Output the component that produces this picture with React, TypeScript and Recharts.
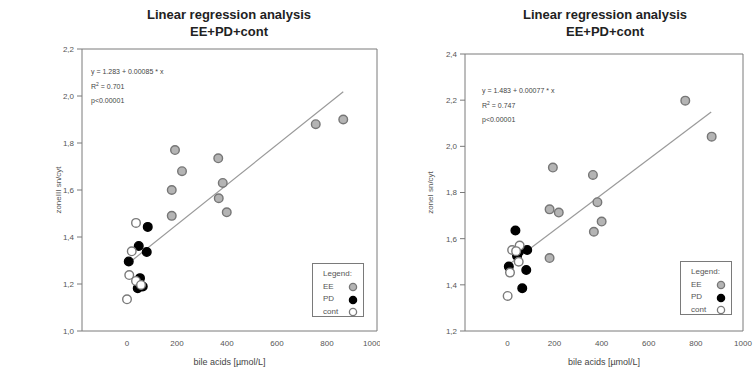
import React from 'react';
import { ScatterChart, Scatter, XAxis, YAxis, ReferenceLine } from 'recharts';

// bile acids (µmol/L) vs staining ratio, two liver zones
const xTicks = [0, 200, 400, 600, 800, 1000];
const zone3Ticks = [1.0, 1.2, 1.4, 1.6, 1.8, 2.0, 2.2];
const zone1Ticks = [1.2, 1.4, 1.6, 1.8, 2.0, 2.2, 2.4];

const zone3EE = [
  { x: 192, y: 1.77 }, { x: 220, y: 1.68 }, { x: 179, y: 1.6 }, { x: 365, y: 1.735 },
  { x: 383, y: 1.63 }, { x: 755, y: 1.88 }, { x: 865, y: 1.9 }, { x: 179, y: 1.49 },
  { x: 367, y: 1.565 }, { x: 399, y: 1.505 },
];
const zone3PD = [
  { x: 83, y: 1.443 }, { x: 47, y: 1.362 }, { x: 79, y: 1.336 }, { x: 7, y: 1.296 },
  { x: 52, y: 1.225 }, { x: 43, y: 1.182 }, { x: 63, y: 1.189 },
];
const zone3Cont = [
  { x: 36, y: 1.46 }, { x: 19, y: 1.339 }, { x: 9, y: 1.238 }, { x: 36, y: 1.213 },
  { x: 56, y: 1.196 }, { x: 0, y: 1.135 },
];

const zone1EE = [
  { x: 755, y: 2.198 }, { x: 867, y: 2.042 }, { x: 193, y: 1.908 }, { x: 363, y: 1.876 },
  { x: 179, y: 1.727 }, { x: 218, y: 1.713 }, { x: 382, y: 1.758 }, { x: 400, y: 1.674 },
  { x: 367, y: 1.63 }, { x: 179, y: 1.516 },
];
const zone1PD = [
  { x: 34, y: 1.635 }, { x: 84, y: 1.551 }, { x: 48, y: 1.542 }, { x: 41, y: 1.525 },
  { x: 6, y: 1.479 }, { x: 80, y: 1.464 }, { x: 63, y: 1.385 },
];
const zone1Cont = [
  { x: 20, y: 1.551 }, { x: 52, y: 1.57 }, { x: 37, y: 1.546 }, { x: 48, y: 1.5 },
  { x: 11, y: 1.453 }, { x: 1, y: 1.352 },
];

const zone3Fit = { a: 1.283, b: 0.00085, eq: 'y = 1.283 + 0.00085 * x', r2: '0.701' };
const zone1Fit = { a: 1.483, b: 0.00077, eq: 'y = 1.483 + 0.00077 * x', r2: '0.747' };
const fitRange = [5, 865];

const font = '"Liberation Sans", Arial, sans-serif';
const axisGray = '#7a7a7a';

const dot = (fill: string, stroke: string) => (p: any) => (
  <circle cx={p.cx} cy={p.cy} r={4.3} fill={fill} stroke={stroke} strokeWidth={1.4} />
);
const eeDot = dot('#b4b4b4', '#767676');
const pdDot = dot('#000', '#000');
const contDot = dot('#fff', '#7a7a7a');

const fmt = (v: number) => v.toFixed(1).replace('.', ',');

type PanelProps = {
  left: number; width: number; top: number; right: number; yWidth: number;
  yTicks: number[]; ee: any[]; pd: any[]; cont: any[];
  fit: { a: number; b: number; eq: string; r2: string };
  yLabel: string; yLabelX: number;
  noteX: number; noteY: number; legendX: number; legendY: number;
};

const Panel = (p: PanelProps) => {
  const xDomain = [-180, 1000];
  const yDomain = [p.yTicks[0], p.yTicks[p.yTicks.length - 1]];
  const height = 368;
  const bottom = 37;
  const midY = (p.top + height - bottom) / 2;
  return (
    <div style={{ position: 'absolute', left: p.left, top: 0, width: p.width, height }}>
      <ScatterChart width={p.width} height={height} margin={{ top: p.top, right: p.right, left: 0, bottom: 0 }}>
        <XAxis
          type="number" dataKey="x" domain={xDomain} ticks={xTicks} height={bottom}
          tickLine={false} tickSize={5} tickMargin={4}
          axisLine={{ stroke: axisGray }}
          tick={{ fontSize: 8, fill: '#555', fontFamily: font }}
          label={{ value: 'bile acids [µmol/L]', position: 'insideBottom', offset: 3, fontSize: 9, fill: '#444', fontFamily: font }}
        />
        <YAxis
          type="number" dataKey="y" domain={yDomain} ticks={p.yTicks} width={p.yWidth}
          tickFormatter={fmt} tickSize={5} tickMargin={3}
          axisLine={{ stroke: axisGray }} tickLine={{ stroke: axisGray }}
          tick={{ fontSize: 8, fill: '#555', fontFamily: font }}
          label={{
            content: () => (
              <text x={p.yLabelX} y={midY} transform={`rotate(-90 ${p.yLabelX} ${midY})`}
                textAnchor="middle" fontSize={8} fill="#555" fontFamily={font}>
                {p.yLabel}
              </text>
            ),
          }}
        />
        <ReferenceLine y={yDomain[1]} stroke={axisGray} />
        <ReferenceLine x={xDomain[1]} stroke={axisGray} />
        <ReferenceLine
          segment={fitRange.map((x) => ({ x, y: p.fit.a + p.fit.b * x }))}
          stroke="#9a9a9a" strokeWidth={1.2}
        />
        <Scatter data={p.ee} shape={eeDot} isAnimationActive={false} />
        <Scatter data={p.pd} shape={pdDot} isAnimationActive={false} />
        <Scatter data={p.cont} shape={contDot} isAnimationActive={false} />
      </ScatterChart>
      <div style={{ position: 'absolute', left: p.noteX, top: p.noteY, fontFamily: font, fontSize: 7, color: '#444', lineHeight: '14.5px' }}>
        <div>{p.fit.eq}</div>
        <div>R<sup style={{ fontSize: 5, verticalAlign: 'top', lineHeight: '8px' }}>2</sup> = {p.fit.r2}</div>
        <div>p&lt;0.00001</div>
      </div>
      <div style={{
        position: 'absolute', left: p.legendX, top: p.legendY, width: 52, height: 54,
        border: `1px solid ${axisGray}`, boxSizing: 'border-box', fontFamily: font, fontSize: 8,
        color: '#555', padding: '4px 0 0 10px', lineHeight: '12.7px',
      }}>
        <div>Legend:</div>
        {[['EE', '#b4b4b4', '#767676'], ['PD', '#000', '#000'], ['cont', '#fff', '#7a7a7a']].map(([n, f, s]) => (
          <div key={n} style={{ display: 'flex', alignItems: 'center' }}>
            <span style={{ width: 25 }}>{n}</span>
            <svg width={10} height={10}><circle cx={5} cy={5} r={3.6} fill={f} stroke={s} strokeWidth={1.3} /></svg>
          </div>
        ))}
      </div>
    </div>
  );
};

const Title = ({ cx }: { cx: number }) => (
  <div style={{
    position: 'absolute', left: cx - 120, top: 6, width: 240, textAlign: 'center',
    fontFamily: font, fontWeight: 'bold', fontSize: 13, lineHeight: '17px', color: '#222',
  }}>
    <div>Linear regression analysis</div>
    <div>EE+PD+cont</div>
  </div>
);

export default function App() {
  return (
    <div style={{ position: 'absolute', left: 0, top: 0, width: 753, height: 368, background: '#fff', overflow: 'hidden' }}>
      <Title cx={229} />
      <Title cx={605} />
      <Panel
        left={0} width={380} top={49} right={3} yWidth={82}
        yTicks={zone3Ticks} ee={zone3EE} pd={zone3PD} cont={zone3Cont} fit={zone3Fit}
        yLabel="zoneIII   sn/cyt" yLabelX={61}
        noteX={91} noteY={65} legendX={312} legendY={263}
      />
      <Panel
        left={380} width={373} top={54} right={10} yWidth={85}
        yTicks={zone1Ticks} ee={zone1EE} pd={zone1PD} cont={zone1Cont} fit={zone1Fit}
        yLabel="zoneI   sn/cyt" yLabelX={53}
        noteX={102} noteY={84} legendX={300} legendY={261}
      />
    </div>
  );
}
